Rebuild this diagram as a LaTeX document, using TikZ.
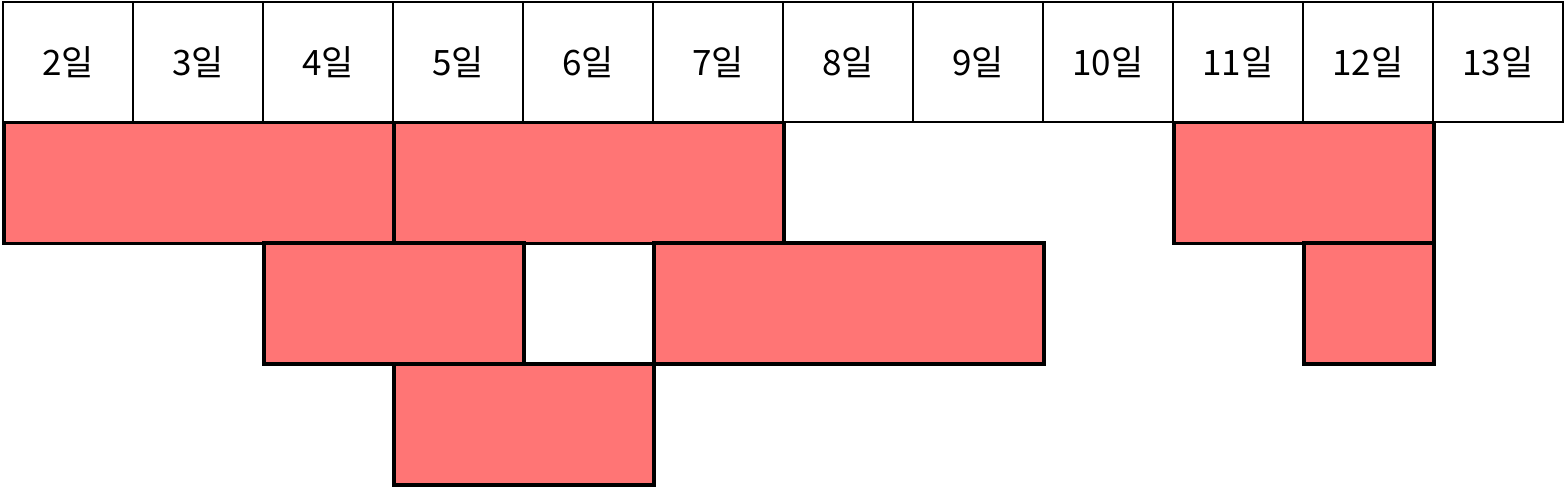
\documentclass[tikz,border=0pt]{standalone}
\usepackage{fontspec}
\newfontfamily\kr{Noto Sans CJK KR}
\definecolor{barred}{HTML}{FF7575}
\begin{document}
\begin{tikzpicture}[x=1pt,y=-1pt,
  cell/.style={draw=black,line width=1.2pt,fill=white,minimum width=130pt,minimum height=120pt,inner sep=0pt,outer sep=0pt,anchor=north west,font=\kr\fontsize{35}{40}\selectfont},
  bar/.style={draw=black,line width=3.5pt,fill=barred,minimum height=121pt,inner sep=0pt,outer sep=0pt,anchor=north west}]
\useasboundingbox (0,0) rectangle (1565,488);
\foreach \dd [count=\kk from 0] in {2,3,4,5,6,7,8,9,10,11,12,13}{
  \node[cell] (h\dd) at (3+130*\kk,2) {\dd 일};
}
\node[bar,minimum width=390pt] (b1) at (4,122.5) {};
\node[bar,minimum width=390pt] (b2) at (394,122.5) {};
\node[bar,minimum width=260pt] (b3) at (1174,122.5) {};
\node[bar,minimum width=260pt] (b4) at (264,243) {};
\node[bar,minimum width=390pt] (b5) at (654,243) {};
\node[bar,minimum width=130pt] (b6) at (1304,243) {};
\node[bar,minimum width=260pt] (b7) at (394,364) {};
\end{tikzpicture}
\end{document}
